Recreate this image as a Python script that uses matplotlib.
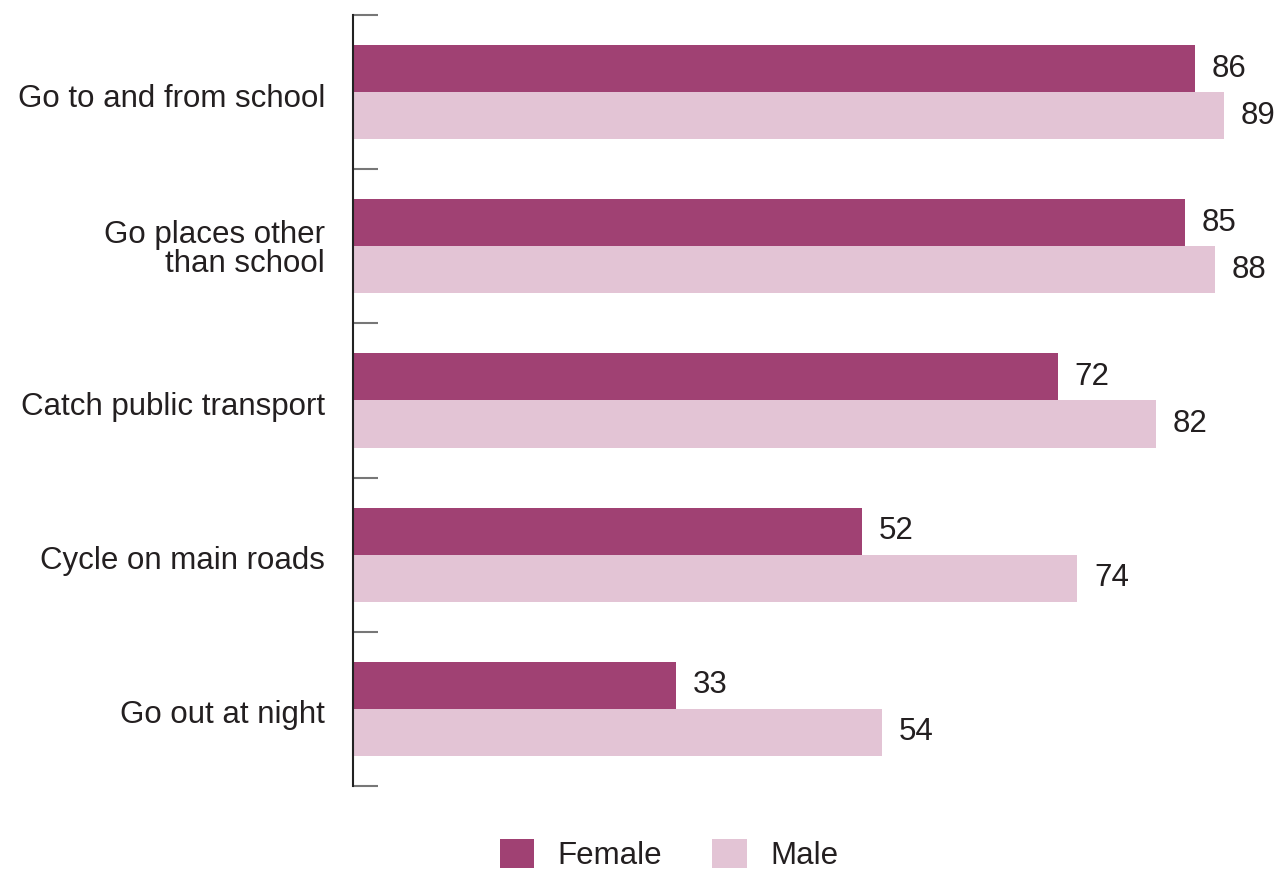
import matplotlib.pyplot as plt
import matplotlib.transforms as mtransforms
import numpy as np

plt.rcParams['font.family'] = ['Liberation Sans', 'DejaVu Sans']

categories = ['Go to and from school', 'Go places other\nthan school', 'Catch public transport',
              'Cycle on main roads', 'Go out at night']
female = [86, 85, 72, 52, 33]
male = [89, 88, 82, 74, 54]

female_col = '#A04173'
male_col = '#E3C4D5'
text_col = '#231F20'
fs = 22.5

fig = plt.figure(figsize=(12.84, 8.71), dpi=100)
ax = fig.add_axes([353/1284, 1 - 786/871, 1 - 353/1284, (786 - 15)/871])

y = np.arange(len(categories))
h = 0.305
ax.barh(y - h/2, female, height=h, color=female_col, label='Female')
ax.barh(y + h/2, male, height=h, color=male_col, label='Male')

# value labels next to each bar
for i in range(len(categories)):
    ax.annotate(str(female[i]), (female[i], y[i] - h/2), xytext=(12, 0), textcoords='offset points',
                va='center', ha='left', fontsize=fs, color=text_col)
    ax.annotate(str(male[i]), (male[i], y[i] + h/2), xytext=(12, 0), textcoords='offset points',
                va='center', ha='left', fontsize=fs, color=text_col)

ax.set_ylim(len(categories) - 0.5, -0.5)
ax.set_xlim(0, 931/9.79)

ax.set_yticks(y)
ax.set_yticklabels(categories, fontsize=fs, color=text_col, linespacing=0.95)
ax.tick_params(axis='y', which='major', length=0, pad=20)
ax.set_yticks(np.arange(-0.5, len(categories)), minor=True)
ax.tick_params(axis='y', which='minor', direction='in', length=18, width=1.5, color='#777777')
ax.set_xticks([])

# single-line labels sit a little below the band centre in the original
shift = mtransforms.ScaledTranslation(0, -3/100, fig.dpi_scale_trans)
for lab in ax.get_yticklabels():
    if '\n' not in lab.get_text():
        lab.set_transform(lab.get_transform() + shift)

for s in ['top', 'right', 'bottom']:
    ax.spines[s].set_visible(False)
ax.spines['left'].set_color('#222222')
ax.spines['left'].set_linewidth(1.5)

fig.legend(loc='center', bbox_to_anchor=(0.521, 0.018), ncol=2, frameon=False, fontsize=fs,
           handlelength=1.1, handleheight=1.05, handletextpad=0.75, columnspacing=1.6,
           labelcolor=text_col)

fig.savefig('out.png', dpi=100)
